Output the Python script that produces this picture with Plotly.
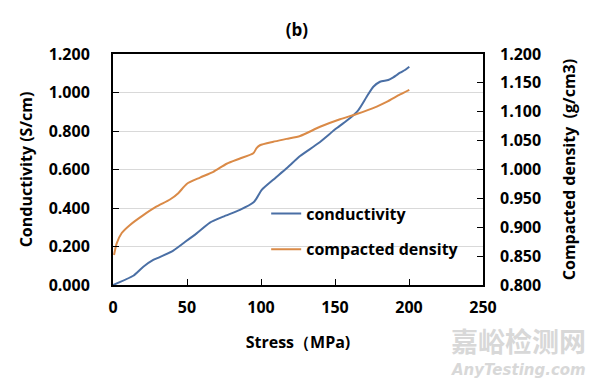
import plotly.graph_objects as go

# Conductivity (S/cm) vs stress (MPa)
cond_stress = [0, 13.7, 20.5, 27.2, 39.6, 47.5, 56.5, 65.5, 74.5, 85.8, 94.8, 97, 100.5, 108,
               117.3, 126.4, 138.7, 151, 160, 165.8, 171.4, 175.9, 180.4, 186, 189.4, 191.7,
               194, 197.3, 200.2]
cond_values = [0, 0.048, 0.095, 0.13, 0.173, 0.217, 0.268, 0.324, 0.355, 0.39, 0.428, 0.45,
               0.494, 0.545, 0.606, 0.67, 0.736, 0.814, 0.866, 0.909, 0.978, 1.03, 1.056,
               1.065, 1.079, 1.091, 1.103, 1.117, 1.134]

# Compacted density (g/cm3) vs stress (MPa)
dens_stress = [0.7, 2.5, 5.9, 11.5, 20.5, 29.5, 38.5, 44.1, 49.8, 58.8, 67.8, 76.8, 85.8, 94.8,
               97, 99.3, 108.3, 117.3, 126.4, 139.9, 153.4, 164.6, 178.2, 184.9, 194, 200.2]
dens_values = [0.852, 0.872, 0.89, 0.904, 0.921, 0.936, 0.948, 0.959, 0.975, 0.986, 0.996,
               1.01, 1.019, 1.028, 1.037, 1.042, 1.048, 1.053, 1.058, 1.074, 1.087, 1.096,
               1.109, 1.117, 1.13, 1.138]

x_ticks = [0, 50, 100, 150, 200, 250]
y1_ticks = [0, 0.2, 0.4, 0.6, 0.8, 1.0, 1.2]
y2_ticks = [0.8, 0.85, 0.9, 0.95, 1.0, 1.05, 1.1, 1.15, 1.2]

FONT = "Open Sans"
BOLD = dict(family=FONT, size=16, color="black", weight="bold")

fig = go.Figure()
fig.add_trace(go.Scatter(x=cond_stress, y=cond_values, mode="lines", name="conductivity",
                         line=dict(color="#4A6FA5", width=2, shape="spline", smoothing=0.6),
                         legendgroup="a"))
fig.add_trace(go.Scatter(x=dens_stress, y=dens_values, mode="lines", name="compacted density",
                         line=dict(color="#DA8A47", width=2, shape="spline", smoothing=0.6),
                         yaxis="y2", legendgroup="b"))

fig.update_layout(
    width=600, height=378,
    margin=dict(l=113, r=117, t=54, b=93, autoexpand=False),
    paper_bgcolor="white", plot_bgcolor="white",
    font=BOLD,
    title=dict(text="(b)", x=0.497, xanchor="center", xref="paper", y=0.921, yref="container",
               yanchor="middle", automargin=False,
               font=dict(family=FONT, size=17, color="black", weight="bold")),
    xaxis=dict(range=[0, 250], tickvals=x_ticks, ticktext=[str(v) for v in x_ticks],
               showgrid=False, zeroline=False, showline=True, linecolor="black", linewidth=2,
               mirror=True, ticks="inside", ticklen=6, tickcolor="black", tickwidth=1,
               ticklabelstandoff=7, tickfont=BOLD, automargin=False,
               title=dict(text="Stress（MPa)", font=BOLD, standoff=20)),
    yaxis=dict(range=[0, 1.2], tickvals=y1_ticks, ticktext=[f"{v:.3f}" for v in y1_ticks],
               showgrid=True, gridcolor="#D9D9D9", gridwidth=1, zeroline=False,
               showline=True, linecolor="black", linewidth=2, mirror=True,
               ticks="inside", ticklen=6, tickcolor="black", ticklabelstandoff=18,
               tickfont=BOLD, automargin=False,
               title=dict(text="Conductivity (S/cm)", font=BOLD, standoff=12)),
    yaxis2=dict(range=[0.8, 1.2], tickvals=y2_ticks, ticktext=[f"{v:.3f}" for v in y2_ticks],
                overlaying="y", side="right", showgrid=False, zeroline=False,
                showline=False, ticks="inside", ticklen=6, tickcolor="black",
                ticklabelstandoff=16, tickfont=BOLD, automargin=False,
                title=dict(text="Compacted density  (g/cm3)", font=BOLD, standoff=23)),
    legend=dict(x=0.414, y=0.383, xanchor="left", yanchor="top", bgcolor="rgba(0,0,0,0)",
                font=BOLD, tracegroupgap=12, traceorder="grouped"),
    showlegend=True,
)

fig.add_annotation(text="嘉峪检测网", xref="paper", yref="paper", x=1.285, y=-0.24,
                   xanchor="right", yanchor="middle", showarrow=False,
                   font=dict(family="Noto Sans CJK SC", size=27, color="#D8D8D8"))
fig.add_annotation(text="<i>AnyTesting.com</i>", xref="paper", yref="paper", x=1.285, y=-0.37,
                   xanchor="right", yanchor="middle", showarrow=False,
                   font=dict(family="DejaVu Sans", size=15, color="#D8D8D8"))

fig.write_html("out.html", config={"displayModeBar": False},
               post_script="document.body.style.margin='0';")
